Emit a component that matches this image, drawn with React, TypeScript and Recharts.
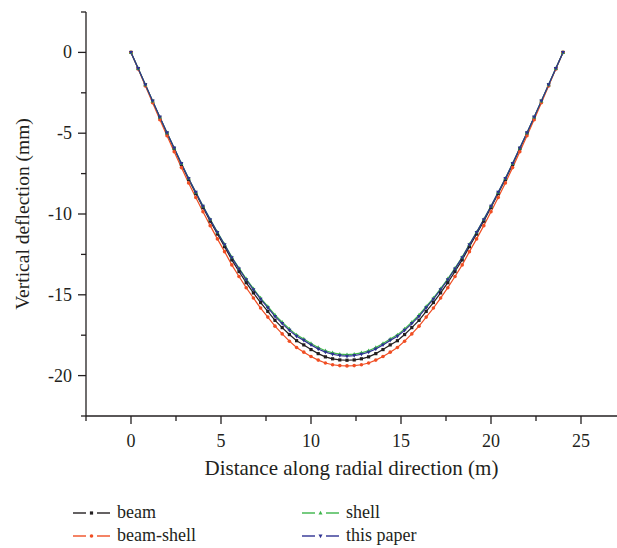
import { Line, LineChart, XAxis, YAxis } from "recharts";

const dist = [
  0, 0.4, 0.8, 1.2, 1.6, 2, 2.4, 2.8, 3.2, 3.6, 4, 4.4, 4.8, 5.2, 5.6, 6, 6.4, 6.8, 7.2, 7.6, 8, 8.4, 8.8, 9.2, 9.6, 10,
  10.4, 10.8, 11.2, 11.6, 12, 12.4, 12.8, 13.2, 13.6, 14, 14.4, 14.8, 15.2, 15.6, 16, 16.4, 16.8, 17.2, 17.6, 18, 18.4,
  18.8, 19.2, 19.6, 20, 20.4, 20.8, 21.2, 21.6, 22, 22.4, 22.8, 23.2, 23.6, 24,
];

const beam = [
  0, -1.0, -2.01, -3.02, -4.03, -5.0, -5.96, -6.93, -7.86, -8.73, -9.6, -10.44, -11.24, -12.02, -12.84, -13.56, -14.25,
  -14.88, -15.48, -16.03, -16.58, -17.03, -17.46, -17.84, -18.1, -18.39, -18.64, -18.84, -18.96, -19.03, -19.05,
  -19.03, -18.96, -18.84, -18.64, -18.39, -18.1, -17.84, -17.46, -17.03, -16.58, -16.03, -15.48, -14.88, -14.25,
  -13.56, -12.84, -12.02, -11.24, -10.44, -9.6, -8.73, -7.86, -6.93, -5.96, -5.0, -4.03, -3.02, -2.01, -1.0, 0,
];

const beamShell = [
  0, -1.03, -2.08, -3.12, -4.16, -5.16, -6.15, -7.13, -8.08, -8.98, -9.86, -10.72, -11.54, -12.33, -13.15, -13.87,
  -14.56, -15.2, -15.82, -16.38, -16.94, -17.42, -17.87, -18.26, -18.55, -18.82, -19.04, -19.22, -19.33, -19.38, -19.4,
  -19.38, -19.33, -19.22, -19.04, -18.82, -18.55, -18.26, -17.87, -17.42, -16.94, -16.38, -15.82, -15.2, -14.56,
  -13.87, -13.15, -12.33, -11.54, -10.72, -9.86, -8.98, -8.08, -7.13, -6.15, -5.16, -4.16, -3.12, -2.08, -1.03, 0,
];

const shell = [
  0, -1.0, -2.0, -3.0, -4.0, -4.97, -5.92, -6.87, -7.79, -8.65, -9.5, -10.33, -11.12, -11.87, -12.66, -13.35, -14.01,
  -14.62, -15.2, -15.72, -16.25, -16.69, -17.11, -17.48, -17.73, -18.01, -18.26, -18.46, -18.59, -18.67, -18.7,
  -18.67, -18.59, -18.46, -18.26, -18.01, -17.73, -17.48, -17.11, -16.69, -16.25, -15.72, -15.2, -14.62, -14.01,
  -13.35, -12.66, -11.87, -11.12, -10.33, -9.5, -8.65, -7.79, -6.87, -5.92, -4.97, -4.0, -3.0, -2.0, -1.0, 0,
];

const thisPaper = [
  0, -1.0, -2.0, -3.0, -4.0, -4.97, -5.92, -6.88, -7.8, -8.66, -9.52, -10.35, -11.14, -11.9, -12.7, -13.4, -14.07,
  -14.68, -15.27, -15.8, -16.34, -16.78, -17.2, -17.57, -17.82, -18.1, -18.35, -18.55, -18.68, -18.76, -18.8,
  -18.76, -18.68, -18.55, -18.35, -18.1, -17.82, -17.57, -17.2, -16.78, -16.34, -15.8, -15.27, -14.68, -14.07,
  -13.4, -12.7, -11.9, -11.14, -10.35, -9.52, -8.66, -7.8, -6.88, -5.92, -4.97, -4.0, -3.0, -2.0, -1.0, 0,
];

const xTicks = [-2.5, 0, 2.5, 5, 7.5, 10, 12.5, 15, 17.5, 20, 22.5, 25];
const yTicks = [-22.5, -20, -17.5, -15, -12.5, -10, -7.5, -5, -2.5, 0, 2.5];

const ink = "#231f20";
const font = '"Liberation Serif", "Times New Roman", serif';

const series = [
  { key: "beam", name: "beam", color: "#231f20", shape: "square" },
  { key: "beamShell", name: "beam-shell", color: "#f04e23", shape: "circle" },
  { key: "shell", name: "shell", color: "#3cb54a", shape: "up" },
  { key: "thisPaper", name: "this paper", color: "#2e3192", shape: "down" },
];

const rows = dist.map((d, i) => ({
  x: d,
  beam: beam[i],
  beamShell: beamShell[i],
  shell: shell[i],
  thisPaper: thisPaper[i],
}));

function marker(shape: string, cx: number, cy: number, color: string, key?: any) {
  if (shape === "square")
    return <rect key={key} x={cx - 1.6} y={cy - 1.6} width={3.2} height={3.2} fill={color} />;
  if (shape === "circle") return <circle key={key} cx={cx} cy={cy} r={1.8} fill={color} />;
  if (shape === "up")
    return <polygon key={key} points={`${cx},${cy - 2.2} ${cx - 2},${cy + 1.5} ${cx + 2},${cy + 1.5}`} fill={color} />;
  return <polygon key={key} points={`${cx},${cy + 2.2} ${cx - 2},${cy - 1.5} ${cx + 2},${cy - 1.5}`} fill={color} />;
}

const XTick = (props: any) => {
  const { x, y, payload } = props;
  const major = payload.value % 5 === 0;
  return (
    <g>
      <line x1={x} x2={x} y1={y} y2={y + (major ? 8 : 5)} stroke={ink} strokeWidth={1.3} />
      {major && (
        <text x={x} y={y + 31} textAnchor="middle" fill={ink} fontSize={18} fontFamily={font}>
          {payload.value}
        </text>
      )}
    </g>
  );
};

const YTick = (props: any) => {
  const { x, y, payload } = props;
  const major = payload.value % 5 === 0;
  return (
    <g>
      <line x1={x} x2={x - (major ? 8 : 5)} y1={y} y2={y} stroke={ink} strokeWidth={1.3} />
      {major && (
        <text x={x - 14} y={y + 6} textAnchor="end" fill={ink} fontSize={18} fontFamily={font}>
          {payload.value}
        </text>
      )}
    </g>
  );
};

// rotated y title, centred on the plot's vertical extent
const YTitle = (props: any) => {
  const vb = props.viewBox;
  const cx = vb.x + 29;
  const cy = vb.y + vb.height / 2;
  return (
    <text
      x={cx}
      y={cy}
      transform={`rotate(-90, ${cx}, ${cy})`}
      textAnchor="middle"
      fill={ink}
      fontSize={19.5}
      fontFamily={font}
    >
      Vertical deflection (mm)
    </text>
  );
};

function LegendItem({ s }: { s: (typeof series)[number] }) {
  return (
    <div style={{ display: "flex", alignItems: "center", height: 23 }}>
      <svg width={37} height={10} style={{ marginRight: 7 }}>
        <line x1={0} x2={13} y1={5} y2={5} stroke={s.color} strokeWidth={1.4} />
        {marker(s.shape, 18.5, 5, s.color)}
        <line x1={24} x2={37} y1={5} y2={5} stroke={s.color} strokeWidth={1.4} />
      </svg>
      <span>{s.name}</span>
    </div>
  );
}

export default function App() {
  return (
    <div
      style={{
        position: "absolute",
        left: 0,
        top: 0,
        width: 617,
        height: 548,
        overflow: "hidden",
        background: "#fff",
        fontFamily: font,
        color: ink,
      }}
    >
      <LineChart width={617} height={480} data={rows} margin={{ top: 12, right: 0, left: 0, bottom: 0 }}>
        <XAxis
          dataKey="x"
          type="number"
          domain={[-2.5, 27]}
          ticks={xTicks}
          allowDataOverflow
          height={64}
          tickSize={0}
          tickMargin={0}
          tick={<XTick />}
          interval={0}
          axisLine={{ stroke: ink, strokeWidth: 1.3 }}
          label={{
            value: "Distance along radial direction (m)",
            position: "insideBottom",
            offset: 5,
            fill: ink,
            fontSize: 21,
            fontFamily: font,
          }}
        />
        <YAxis
          type="number"
          domain={[-22.5, 2.5]}
          ticks={yTicks}
          allowDataOverflow
          width={86}
          tickSize={0}
          tickMargin={0}
          tick={<YTick />}
          interval={0}
          axisLine={{ stroke: ink, strokeWidth: 1.3 }}
          label={<YTitle />}
        />
        {series.map((s) => (
          <Line
            key={s.key}
            dataKey={s.key}
            name={s.name}
            type="linear"
            stroke={s.color}
            strokeWidth={1.2}
            dot={(p: any) => marker(s.shape, p.cx, p.cy, s.color, `${s.key}-${p.index}`)}
            activeDot={false}
            isAnimationActive={false}
          />
        ))}
      </LineChart>
      <div
        style={{
          position: "absolute",
          top: 501,
          left: 73,
          display: "grid",
          gridTemplateColumns: "229px 200px",
          fontSize: 18,
          lineHeight: "23px",
        }}
      >
        <LegendItem s={series[0]} />
        <LegendItem s={series[2]} />
        <LegendItem s={series[1]} />
        <LegendItem s={series[3]} />
      </div>
    </div>
  );
}
